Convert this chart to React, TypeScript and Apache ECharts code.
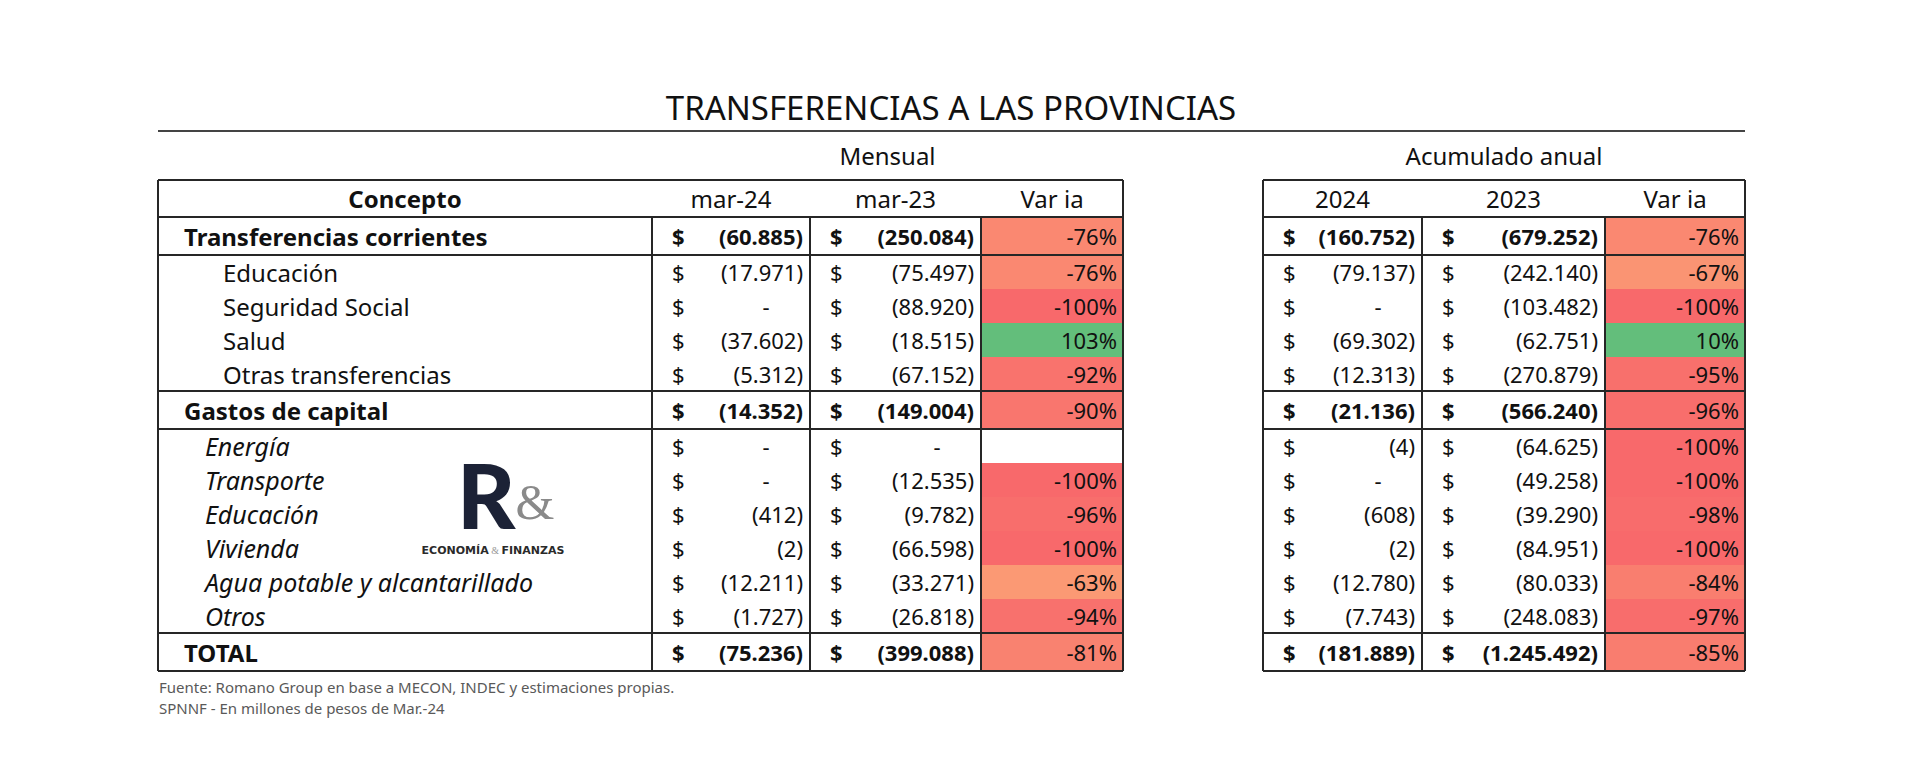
import React, { useEffect, useRef } from 'react';
import * as echarts from 'echarts';

// ---------- DATA ----------
const TITLE = 'TRANSFERENCIAS A LAS PROVINCIAS';
const SECTION_MONTHLY = 'Mensual';
const SECTION_ANNUAL = 'Acumulado anual';
const CONCEPT_HEADER = 'Concepto';
const MONTHLY_HEADERS = ['mar-24', 'mar-23', 'Var ia'];
const ANNUAL_HEADERS = ['2024', '2023', 'Var ia'];

const concepts = [
  'Transferencias corrientes',
  'Educación',
  'Seguridad Social',
  'Salud',
  'Otras transferencias',
  'Gastos de capital',
  'Energía',
  'Transporte',
  'Educación',
  'Vivienda',
  'Agua potable y alcantarillado',
  'Otros',
  'TOTAL',
];
// hierarchy level of each row
const levels = ['total', 'sub', 'sub', 'sub', 'sub', 'total', 'capital', 'capital', 'capital', 'capital', 'capital', 'capital', 'total'];

// millones de pesos (negative values shown in parentheses); null = "-"
const mar24 = [-60885, -17971, null, -37602, -5312, -14352, null, null, -412, -2, -12211, -1727, -75236];
const mar23 = [-250084, -75497, -88920, -18515, -67152, -149004, null, -12535, -9782, -66598, -33271, -26818, -399088];
const varMensual = [-76, -76, -100, 103, -92, -90, null, -100, -96, -100, -63, -94, -81];

const acum2024 = [-160752, -79137, null, -69302, -12313, -21136, -4, null, -608, -2, -12780, -7743, -181889];
const acum2023 = [-679252, -242140, -103482, -62751, -270879, -566240, -64625, -49258, -39290, -84951, -80033, -248083, -1245492];
const varAnual = [-76, -67, -100, 10, -95, -96, -100, -100, -98, -100, -84, -97, -85];

const FOOTNOTES = [
  'Fuente: Romano Group en base a MECON, INDEC y estimaciones propias.',
  'SPNNF - En millones de pesos de Mar.-24',
];
const LOGO_MARK = 'R';
const LOGO_AMP = '&';
const LOGO_WORDS = ['ECONOMÍA', '&', 'FINANZAS'];

// ---------- LAYOUT / STYLE ----------
const FONT = '"Noto Sans", "Open Sans", sans-serif';
const INK = '#111111';
const LINE = '#262626';
const RED = '#F8696B';
const YEL = '#FFEB84';
const GRN = '#63BE7B';
const TABLE_TOP = 180;
const LEFT_X = 158;
const LEFT_COLS = [0, 494, 652, 823, 965];
const RIGHT_X = 1263;
const RIGHT_COLS = [0, 159, 342, 482];
const NUM_FS = 22;
const LBL_FS = 24;
const ROW_H: Record<string, number> = { header: 37, total: 38, sub: 34, capital: 34 };

const rowKinds = ['header', ...levels];
const rowEnds: number[] = [];
rowKinds.reduce((acc, k) => {
  const e = acc + ROW_H[k];
  rowEnds.push(e);
  return e;
}, 0);
const rowStarts = rowEnds.map((e, i) => e - ROW_H[rowKinds[i]]);
const TABLE_H = rowEnds[rowEnds.length - 1];

function fmtNum(v: number) {
  const s = Math.abs(v).toString().replace(/\B(?=(\d{3})+(?!\d))/g, '.');
  return v < 0 ? `(${s})` : s;
}

function varColor(v: number, min: number, max: number) {
  if (v <= 0) return echarts.color.lerp((v - min) / (0 - min), [RED, YEL]);
  return echarts.color.lerp(v / max, [YEL, GRN]);
}

function txt(s: string, x: number, y: number, align: string, opts: any = {}) {
  return {
    type: 'text',
    x,
    y,
    z2: 5,
    style: {
      text: s,
      fill: opts.fill || INK,
      fontFamily: opts.fontFamily || FONT,
      fontSize: opts.fontSize || NUM_FS,
      fontWeight: opts.fontWeight || 'normal',
      fontStyle: opts.fontStyle || 'normal',
      lineHeight: opts.lineHeight,
      align,
      textAlign: align,
      verticalAlign: 'middle',
      textVerticalAlign: 'middle',
    },
  };
}

interface Cfg {
  cols: number[];
  concept: boolean;
  headers: string[];
  values: (number | null)[][];
  vars: (number | null)[];
}

function makeRenderer(cfg: Cfg) {
  const vv = cfg.vars.filter((v) => v != null) as number[];
  const vmin = Math.min(...vv);
  const vmax = Math.max(...vv);
  const off = cfg.concept ? 1 : 0; // first value column index
  const nCols = cfg.cols.length - 1;
  return (params: any, api: any) => {
    const r = api.value(3) as number;
    const top = api.coord([0, api.value(1)])[1];
    const bot = api.coord([0, api.value(2)])[1];
    const cy = (top + bot) / 2;
    const h = bot - top;
    const cs = params.coordSys;
    const X = (c: number) => cs.x + cfg.cols[c];
    const left = cs.x;
    const right = cs.x + cs.width;
    const ch: any[] = [];
    const line = (x1: number, y1: number, x2: number, y2: number) =>
      ch.push({ type: 'line', z2: 10, shape: { x1, y1, x2, y2 }, style: { stroke: LINE, lineWidth: 2 } });

    // outer borders
    line(left, top, left, bot);
    line(right, top, right, bot);

    if (r === 0) {
      line(left, top, right, top);
      if (cfg.concept)
        ch.push(txt(CONCEPT_HEADER, (X(0) + X(1)) / 2, cy, 'center', { fontWeight: 'bold', fontSize: LBL_FS }));
      cfg.headers.forEach((hd, k) => {
        ch.push(txt(hd, (X(off + k) + X(off + k + 1)) / 2, cy, 'center', { fontSize: LBL_FS }));
      });
      line(left, bot, right, bot);
    } else {
      const i = r - 1;
      const lvl = levels[i];
      const bold = lvl === 'total' ? 'bold' : 'normal';
      const nextLvl = levels[i + 1];
      if (lvl === 'total' || nextLvl === 'total' || i === levels.length - 1) line(left, bot, right, bot);
      // internal verticals
      for (let c = 1; c < nCols; c++) line(X(c), top, X(c), bot);
      if (cfg.concept) {
        const indent = lvl === 'total' ? 26 : lvl === 'sub' ? 65 : 47;
        const italic = lvl === 'capital';
        ch.push(
          txt(concepts[i], X(0) + indent, cy, 'left', {
            fontWeight: bold,
            fontStyle: italic ? 'italic' : 'normal',
            fontSize: italic ? 25 : LBL_FS,
          })
        );
      }
      cfg.values.forEach((arr, k) => {
        const c0 = X(off + k);
        const c1 = X(off + k + 1);
        const v = arr[i];
        ch.push(txt('$', c0 + 20, cy, 'left', { fontWeight: bold }));
        if (v == null) ch.push(txt('-', c1 - 44, cy, 'center', { fontWeight: bold }));
        else ch.push(txt(fmtNum(v), c1 - 7, cy, 'right', { fontWeight: bold }));
      });
      const vc = off + cfg.values.length;
      const v = cfg.vars[i];
      if (v != null) {
        ch.push({
          type: 'rect',
          z2: 1,
          shape: { x: X(vc), y: top, width: X(vc + 1) - X(vc), height: h },
          style: { fill: varColor(v, vmin, vmax) },
        });
        ch.push(txt(`${v}%`, X(vc + 1) - 6, cy, 'right'));
      }
    }
    return { type: 'group', children: ch };
  };
}

export default function App() {
  const ref = useRef<HTMLDivElement>(null);
  useEffect(() => {
    if (!ref.current) return;
    const chart = echarts.init(ref.current, undefined, { renderer: 'svg' });
    const leftW = LEFT_COLS[LEFT_COLS.length - 1];
    const rightW = RIGHT_COLS[RIGHT_COLS.length - 1];
    const rowData = rowKinds.map((_, i) => [0, rowStarts[i], rowEnds[i], i]);
    const yAx = (g: number) => ({ type: 'value', gridIndex: g, min: 0, max: TABLE_H, inverse: true, show: false });
    const option: any = {
      animation: false,
      backgroundColor: '#ffffff',
      grid: [
        { left: LEFT_X, top: TABLE_TOP, width: leftW, height: TABLE_H },
        { left: RIGHT_X, top: TABLE_TOP, width: rightW, height: TABLE_H },
      ],
      xAxis: [
        { type: 'value', gridIndex: 0, min: 0, max: 1, show: false },
        { type: 'value', gridIndex: 1, min: 0, max: 1, show: false },
      ],
      yAxis: [yAx(0), yAx(1)],
      series: [
        {
          type: 'custom',
          xAxisIndex: 0,
          yAxisIndex: 0,
          silent: true,
          clip: false,
          data: rowData,
          renderItem: makeRenderer({
            cols: LEFT_COLS,
            concept: true,
            headers: MONTHLY_HEADERS,
            values: [mar24, mar23],
            vars: varMensual,
          }),
        },
        {
          type: 'custom',
          xAxisIndex: 1,
          yAxisIndex: 1,
          silent: true,
          clip: false,
          data: rowData,
          renderItem: makeRenderer({
            cols: RIGHT_COLS,
            concept: false,
            headers: ANNUAL_HEADERS,
            values: [acum2024, acum2023],
            vars: varAnual,
          }),
        },
      ],
      graphic: [
        txt(TITLE, 951, 107, 'center', { fontSize: 33 }),
        {
          type: 'line',
          shape: { x1: LEFT_X, y1: 131, x2: RIGHT_X + rightW, y2: 131 },
          style: { stroke: '#444444', lineWidth: 2 },
        },
        txt(SECTION_MONTHLY, LEFT_X + (LEFT_COLS[1] + leftW) / 2, 155, 'center', { fontSize: LBL_FS }),
        txt(SECTION_ANNUAL, RIGHT_X + rightW / 2, 155, 'center', { fontSize: LBL_FS }),
        txt(FOOTNOTES[0], 159, 687, 'left', { fontSize: 15, fill: '#595959', lineHeight: 18 }),
        txt(FOOTNOTES[1], 159, 708, 'left', { fontSize: 15, fill: '#595959', lineHeight: 18 }),
        {
          type: 'text',
          x: 457,
          y: 494,
          style: {
            text: `{r|${LOGO_MARK}}{a|${LOGO_AMP}}`,
            align: 'left',
            textAlign: 'left',
            verticalAlign: 'middle',
            textVerticalAlign: 'middle',
            rich: {
              r: { fontFamily: 'Lato, sans-serif', fontWeight: 900, fontSize: 90, lineHeight: 66, fill: '#1c2236', color: '#1c2236' },
              a: {
                fontFamily: '"Liberation Serif", serif',
                fontSize: 50,
                lineHeight: 22,
                verticalAlign: 'bottom',
                fill: '#8a8a8a',
                color: '#8a8a8a',
              },
            },
          },
        },
        {
          type: 'text',
          x: 493,
          y: 550,
          style: {
            text: `{a|${LOGO_WORDS[0]}}{b| ${LOGO_WORDS[1]} }{a|${LOGO_WORDS[2]}}`,
            align: 'center',
            textAlign: 'center',
            verticalAlign: 'middle',
            textVerticalAlign: 'middle',
            rich: {
              a: { fontFamily: '"DejaVu Sans", sans-serif', fontWeight: 'bold', fontSize: 11, lineHeight: 12, fill: '#2a2a2a', color: '#2a2a2a' },
              b: { fontFamily: '"Liberation Serif", serif', fontSize: 10, lineHeight: 12, fill: '#999999', color: '#999999' },
            },
          },
        },
      ],
    };
    chart.setOption(option);
    return () => chart.dispose();
  }, []);
  return (
    <div
      ref={ref}
      style={{ position: 'fixed', left: 0, top: 0, width: 1920, height: 778, background: '#fff' }}
    />
  );
}
